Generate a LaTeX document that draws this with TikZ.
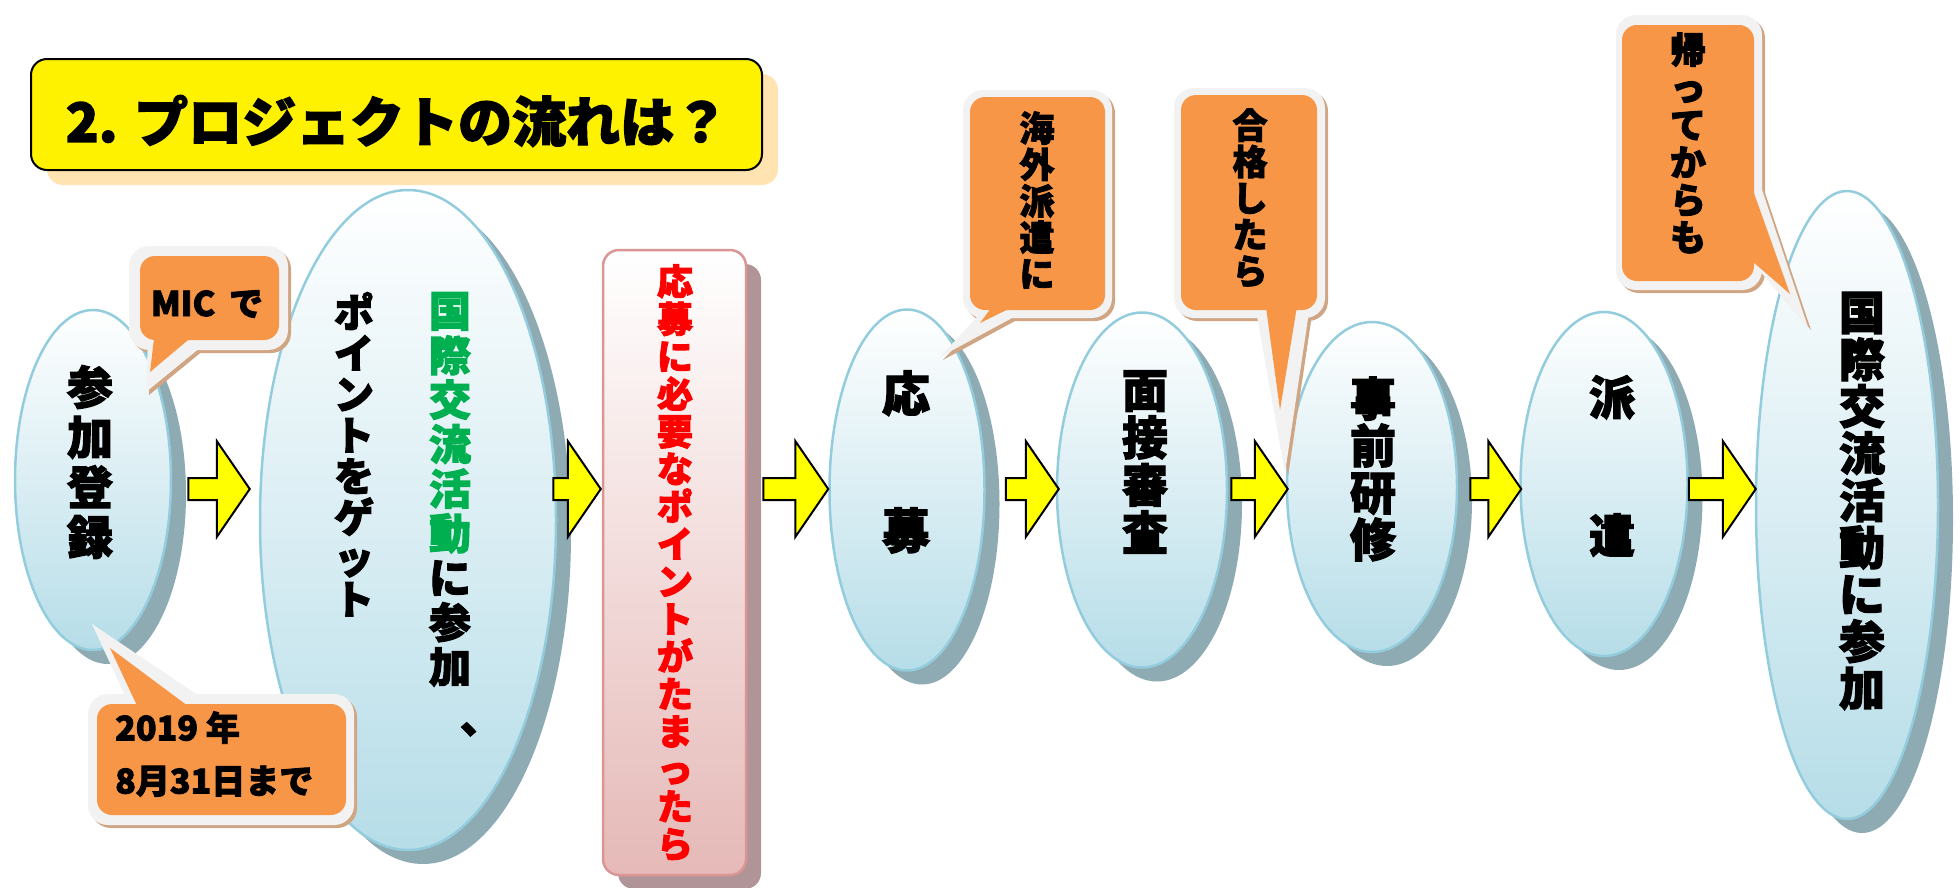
\documentclass[tikz,border=0pt]{standalone}
\usepackage{fontspec}
\newfontfamily\cjk{Noto Sans CJK JP}[BoldFeatures={FakeBold=2.5}]
\usetikzlibrary{shapes.geometric,calc}
\definecolor{ellborder}{HTML}{93CDDD}
\definecolor{ellbot}{HTML}{B6DDE8}
\definecolor{ellshadow}{HTML}{8EAAB2}
\definecolor{pinkbot}{HTML}{E5B9B7}
\definecolor{pinkborder}{HTML}{D99694}
\definecolor{pinkshadow}{HTML}{B09497}
\definecolor{titleshadow}{HTML}{FFE4B2}
\definecolor{cfill}{HTML}{F79646}
\definecolor{crim}{HTML}{F2F2F2}
\definecolor{cshadow}{HTML}{D0A584}
\definecolor{greentxt}{HTML}{00B050}
\definecolor{yarrfill}{HTML}{FFFF00}
\newcommand\G[1]{\textcolor{greentxt}{#1}}
\newcommand\yarrow[4]{%
  \draw[yarr] let \p1=(#1.east), \p2=(#2.west) in
    (\x1+#3pt,-478pt) -- (\x2+#4pt-33pt,-478pt) -- (\x2+#4pt-33pt,-441pt)
    -- (\x2+#4pt,-489pt) -- (\x2+#4pt-33pt,-537pt) -- (\x2+#4pt-33pt,-500pt)
    -- (\x1+#3pt,-500pt) -- cycle;}
\newcommand\callout[4]{%
  \fill[cshadow, transform canvas={shift={(3pt,-3pt)}}, rounded corners=20pt] #1;
  \fill[cshadow, transform canvas={shift={(3pt,-3pt)}}] #2;
  \fill[crim, rounded corners=20pt] #1;
  \fill[crim] #2;
  \fill[cfill, rounded corners=15pt] #3;
  \fill[cfill] #4;}
\begin{document}
\begin{tikzpicture}[x=1pt,y=-1pt,
  ell/.style={ellipse, draw=ellborder, line width=2.5pt, top color=white, bottom color=ellbot,
    inner sep=0pt, preaction={fill=ellshadow, transform canvas={shift={(15pt,-14pt)}}}},
  pinkbox/.style={rectangle, rounded corners=16pt, draw=pinkborder, line width=2.5pt,
    top color=white, bottom color=pinkbot, inner sep=0pt,
    preaction={fill=pinkshadow, transform canvas={shift={(15pt,-14pt)}}}},
  titlebox/.style={rectangle, rounded corners=16pt, draw=black, line width=2pt, fill=yellow,
    inner sep=0pt, preaction={fill=titleshadow, transform canvas={shift={(16pt,-15pt)}}}},
  yarr/.style={draw=black, line width=2pt, fill=yarrfill, line join=miter},
  vtxt/.style={align=center, inner sep=0pt}
]
\useasboundingbox (0,0) rectangle (1960,887);

% title
\node[titlebox, minimum width=731pt, minimum height=111pt] (title) at (396.5,114.5) {};

% shapes
\node[ell, minimum width=156pt, minimum height=340pt] (e1) at (93,480) {};
\node[ell, minimum width=296pt, minimum height=660pt] (e2) at (408,520) {};
\node[pinkbox, minimum width=143pt, minimum height=625pt] (r3) at (674.5,562.5) {};
\node[ell, minimum width=155pt, minimum height=361pt] (e4) at (907,490) {};
\node[ell, minimum width=170pt, minimum height=355pt] (e5) at (1142,490) {};
\node[ell, minimum width=170pt, minimum height=330pt] (e6) at (1372,487) {};
\node[ell, minimum width=167pt, minimum height=344pt] (e7) at (1604,484) {};
\node[ell, minimum width=182pt, minimum height=628pt] (e8) at (1847,505) {};

% arrows
\yarrow{e1}{e2}{16}{-9}
\yarrow{e2}{r3}{-4}{-1}
\yarrow{r3}{e4}{16}{0}
\yarrow{e4}{e5}{20}{3}
\yarrow{e5}{e6}{3}{2}
\yarrow{e6}{e7}{12}{2}
\yarrow{e7}{e8}{0}{1}

% callouts
\callout{(129,246) rectangle (288,350)}{(148,338) -- (212,338) -- (146,392) -- cycle}
        {(140,256) rectangle (279,340)}{(155,330) -- (200,330) -- (150,372) -- cycle}
\callout{(88,694) rectangle (354,825)}{(128,702) -- (208,702) -- (92,624) -- cycle}
        {(97,704) rectangle (346,815)}{(140,712) -- (196,712) -- (110,648) -- cycle}
\callout{(963,90) rectangle (1112,318)}{(988,305) -- (1036,305) -- (940,357) -- cycle}
        {(970,97) rectangle (1105,310)}{(997,300) -- (1027,300) -- (980,323) -- cycle}
\callout{(1174,88) rectangle (1325,318)}{(1255,305) -- (1310,305) -- (1285,473) -- cycle}
        {(1181,95) rectangle (1317,310)}{(1265,300) -- (1298,300) -- (1280,410) -- cycle}
\callout{(1616,15) rectangle (1762,290)}{(1752,160) -- (1752,262) -- (1808,327) -- cycle}
        {(1622,25) rectangle (1754,281)}{(1745,168) -- (1745,255) -- (1790,294) -- cycle}

% texts
\node[font=\cjk\bfseries\fontsize{54}{60}\selectfont] (titletxt) at (397,121) {2. プロジェクトの流れは？};
\node[vtxt, font=\cjk\bfseries\fontsize{46}{50}\selectfont] (t1) at (90,462) {参\\加\\登\\録};
\node[vtxt, anchor=north, font=\cjk\bfseries\fontsize{42}{44.5}\selectfont] (t2a) at (450,292)
  {\G{国}\\\G{際}\\\G{交}\\\G{流}\\\G{活}\\\G{動}\\に\\参\\加\\\raisebox{-6pt}{\hspace*{62pt}、}};
\node[vtxt, anchor=north, font=\cjk\bfseries\fontsize{40}{41}\selectfont] (t2b) at (354,292)
  {ポ\\イ\\ン\\ト\\を\\ゲ\\ッ\\ト};
\node[vtxt, anchor=north, text=red, font=\cjk\bfseries\fontsize{36}{37.5}\selectfont] (t3) at (675,264)
  {応\\募\\に\\必\\要\\な\\ポ\\イ\\ン\\ト\\が\\た\\ま\\っ\\た\\ら};
\node[vtxt, font=\cjk\bfseries\fontsize{48}{137}\selectfont] (t4) at (906,462) {応\\募};
\node[vtxt, font=\cjk\bfseries\fontsize{46}{47.5}\selectfont] (t5) at (1145,462) {面\\接\\審\\査};
\node[vtxt, font=\cjk\bfseries\fontsize{46}{47}\selectfont] (t6) at (1373,469) {事\\前\\研\\修};
\node[vtxt, font=\cjk\bfseries\fontsize{46}{138}\selectfont] (t7) at (1612,466) {派\\遣};
\node[vtxt, font=\cjk\bfseries\fontsize{46}{47}\selectfont] (t8) at (1862,501)
  {国\\際\\交\\流\\活\\動\\に\\参\\加};
\node[font=\cjk\bfseries\fontsize{34}{40}\selectfont, inner sep=0pt] (c1t) at (207,304) {MIC\hspace{6pt} で};
\node[align=left, anchor=west, inner sep=0pt, font=\cjk\bfseries\fontsize{34}{53}\selectfont] (c2t) at (115,754)
  {2019 年\\8月31日まで};
\node[vtxt, font=\cjk\bfseries\fontsize{35}{36.4}\selectfont] (c3t) at (1037,200) {海\\外\\派\\遣\\に};
\node[vtxt, font=\cjk\bfseries\fontsize{35}{36.4}\selectfont] (c4t) at (1250,198) {合\\格\\し\\た\\ら};
\node[vtxt, font=\cjk\bfseries\fontsize{36}{37.5}\selectfont] (c5t) at (1688,143) {帰\\っ\\て\\か\\ら\\も};
\end{tikzpicture}
\end{document}
